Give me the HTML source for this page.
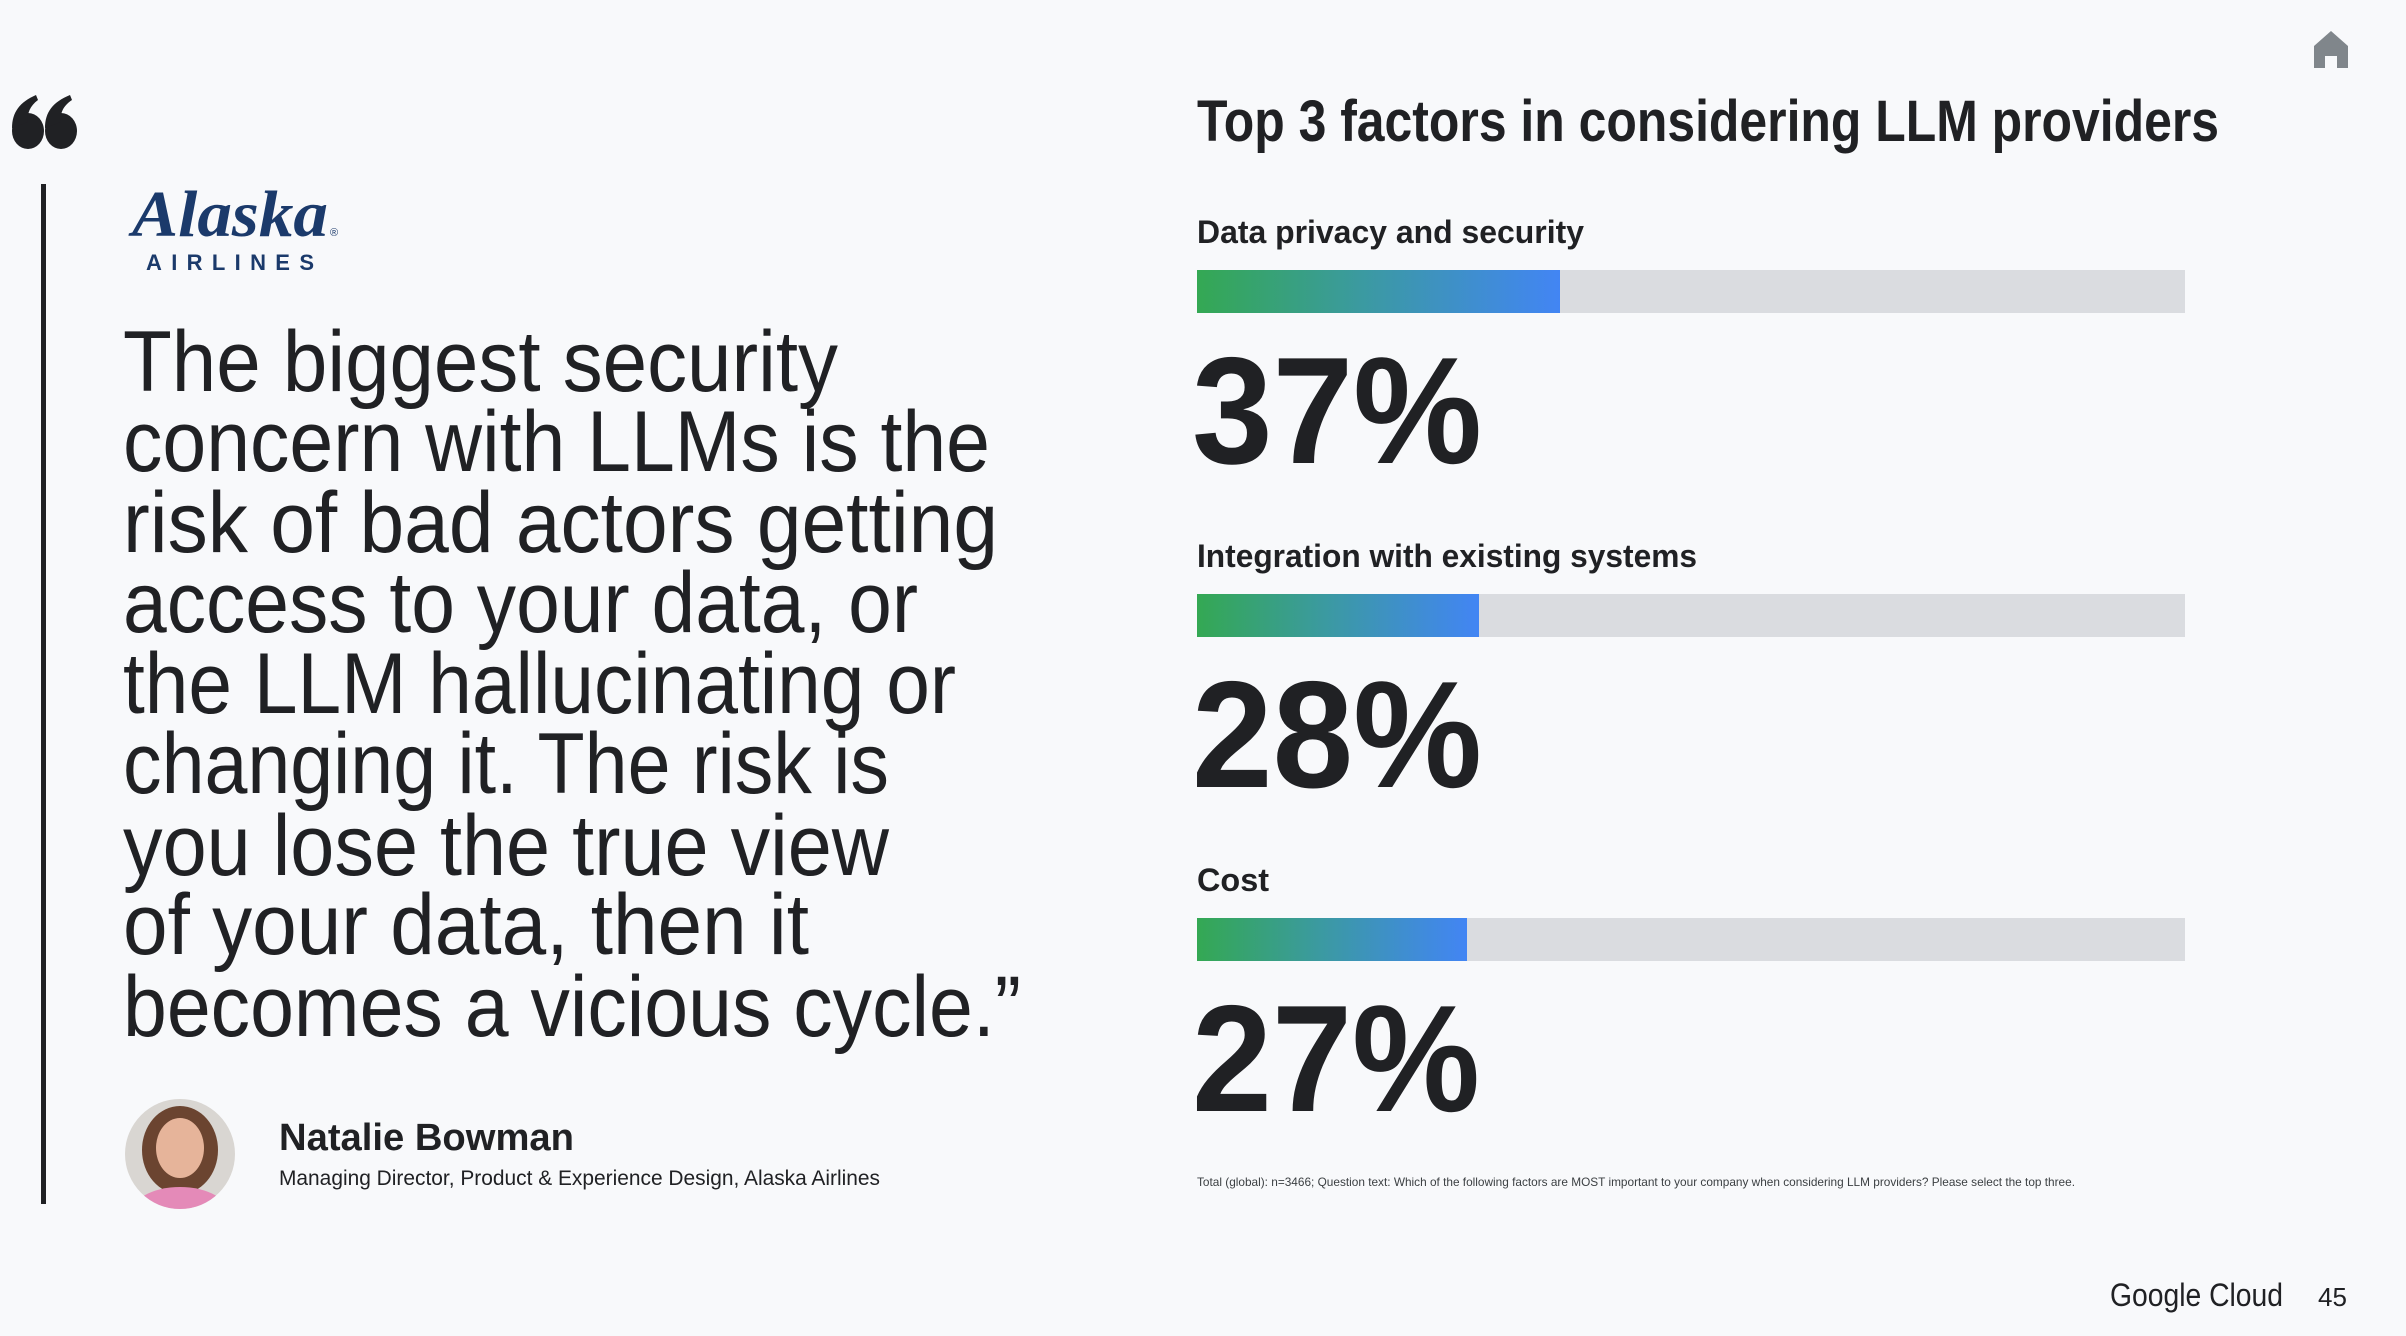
<!DOCTYPE html>
<html><head><meta charset="utf-8"><style>
html,body{margin:0;padding:0;background:#f8f9fb;}
svg{display:block}
</style></head><body>
<svg width="2406" height="1336" viewBox="0 0 2406 1336" xmlns="http://www.w3.org/2000/svg" font-family="Liberation Sans, sans-serif">
<rect width="2406" height="1336" fill="#f8f9fb"/>
<defs>
<linearGradient id="g" x1="0" x2="1" y1="0" y2="0"><stop offset="0" stop-color="#34a853"/><stop offset="0.45" stop-color="#3b9aa0"/><stop offset="1" stop-color="#4285f4"/></linearGradient>
<clipPath id="av"><circle cx="180" cy="1154" r="55"/></clipPath>
</defs>
<!-- quote mark -->
<g fill="#202124">
<ellipse cx="28" cy="131" rx="16" ry="18"/>
<path d="M12 128 C12 112 20 102 36 95 L38 100 C30 106 27 113 28 122 Z"/>
<ellipse cx="61" cy="131" rx="16" ry="18"/>
<path d="M45 128 C45 112 53 102 70 95 L72 100 C63 106 60 113 61 122 Z"/>
</g>
<rect x="41" y="184" width="5" height="1020" fill="#202124"/>
<!-- logo -->
<text x="132" y="236" font-size="66" font-weight="bold" font-style="italic" font-family="Liberation Serif, serif" fill="#1b3a6b" textLength="196" lengthAdjust="spacingAndGlyphs">Alaska</text>
<text x="330" y="236" font-size="11" fill="#1b3a6b">®</text>
<text x="146" y="270" font-size="22" font-weight="bold" fill="#1b3a6b" textLength="168" lengthAdjust="spacing">AIRLINES</text>
<!-- quote -->
<g font-size="86" fill="#202124">
<text x="123" y="391" textLength="715" lengthAdjust="spacingAndGlyphs">The biggest security</text>
<text x="123" y="471" textLength="867" lengthAdjust="spacingAndGlyphs">concern with LLMs is the</text>
<text x="123" y="552" textLength="875" lengthAdjust="spacingAndGlyphs">risk of bad actors getting</text>
<text x="123" y="632" textLength="795" lengthAdjust="spacingAndGlyphs">access to your data, or</text>
<text x="123" y="713" textLength="833" lengthAdjust="spacingAndGlyphs">the LLM hallucinating or</text>
<text x="123" y="793" textLength="766" lengthAdjust="spacingAndGlyphs">changing it. The risk is</text>
<text x="123" y="875" textLength="766" lengthAdjust="spacingAndGlyphs">you lose the true view</text>
<text x="123" y="954" textLength="686" lengthAdjust="spacingAndGlyphs">of your data, then it</text>
<text x="123" y="1036" textLength="898" lengthAdjust="spacingAndGlyphs">becomes a vicious cycle.”</text>
</g>
<!-- avatar -->
<g clip-path="url(#av)">
<rect x="120" y="1094" width="120" height="120" fill="#d9d6d2"/>
<ellipse cx="180" cy="1150" rx="38" ry="44" fill="#6b4430"/>
<ellipse cx="180" cy="1148" rx="24" ry="30" fill="#e6b49a"/>
<ellipse cx="180" cy="1215" rx="50" ry="28" fill="#e48ab8"/>
</g>
<text x="279" y="1150" font-size="38" font-weight="bold" fill="#202124" textLength="295" lengthAdjust="spacingAndGlyphs">Natalie Bowman</text>
<text x="279" y="1185" font-size="21" fill="#202124" textLength="601" lengthAdjust="spacingAndGlyphs">Managing Director, Product &amp; Experience Design, Alaska Airlines</text>
<!-- right -->
<text x="1197" y="141" font-size="58" font-weight="bold" fill="#202124" textLength="1022" lengthAdjust="spacingAndGlyphs">Top 3 factors in considering LLM providers</text>
<text x="1197" y="243" font-size="32" font-weight="bold" fill="#202124" textLength="387" lengthAdjust="spacingAndGlyphs">Data privacy and security</text>
<rect x="1197" y="270" width="988" height="43" fill="#dadce0"/>
<rect x="1197" y="270" width="363" height="43" fill="url(#g)"/>
<text x="1192" y="463" font-size="152" font-weight="bold" fill="#202124" textLength="290" lengthAdjust="spacingAndGlyphs">37%</text>
<text x="1197" y="567" font-size="32" font-weight="bold" fill="#202124" textLength="500" lengthAdjust="spacingAndGlyphs">Integration with existing systems</text>
<rect x="1197" y="594" width="988" height="43" fill="#dadce0"/>
<rect x="1197" y="594" width="282" height="43" fill="url(#g)"/>
<text x="1192" y="787" font-size="152" font-weight="bold" fill="#202124" textLength="290" lengthAdjust="spacingAndGlyphs">28%</text>
<text x="1197" y="891" font-size="32" font-weight="bold" fill="#202124" textLength="72" lengthAdjust="spacingAndGlyphs">Cost</text>
<rect x="1197" y="918" width="988" height="43" fill="#dadce0"/>
<rect x="1197" y="918" width="270" height="43" fill="url(#g)"/>
<text x="1192" y="1111" font-size="152" font-weight="bold" fill="#202124" textLength="288" lengthAdjust="spacingAndGlyphs">27%</text>
<text x="1197" y="1186" font-size="12" fill="#3c4043" textLength="878" lengthAdjust="spacingAndGlyphs">Total (global): n=3466; Question text: Which of the following factors are MOST important to your company when considering LLM providers? Please select the top three.</text>
<text x="2110" y="1306" font-size="32" fill="#202124" textLength="173" lengthAdjust="spacingAndGlyphs">Google Cloud</text>
<text x="2318" y="1306" font-size="26" fill="#202124">45</text>
<!-- home icon -->
<path d="M2331 31 L2348 46 L2348 68 L2337 68 L2337 56 L2325 56 L2325 68 L2314 68 L2314 46 Z" fill="#80868b"/>
</svg>
</body></html>
